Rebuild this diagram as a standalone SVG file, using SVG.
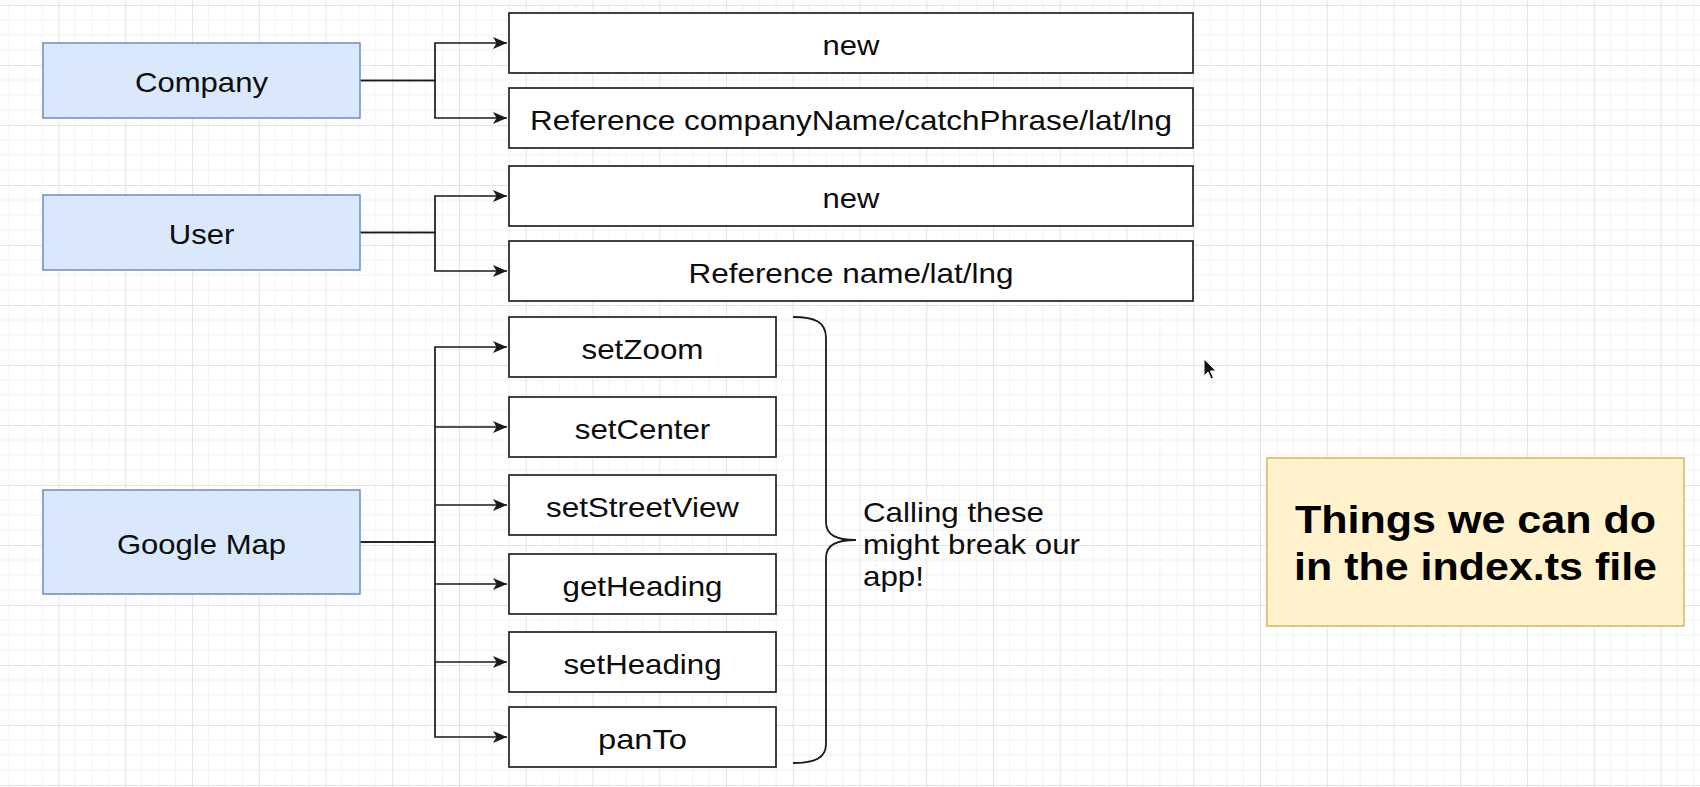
<svg xmlns="http://www.w3.org/2000/svg" width="1700" height="787" viewBox="0 0 1700 787">
<style>
.bg{fill:#ffffff}
.blue{fill:#dae8fc;stroke:#6c8ebf;stroke-width:1.5}
.box{fill:#ffffff;stroke:#222222;stroke-width:1.7}
.note{fill:#fff2cc;stroke:#d6b656;stroke-width:1.5}
.lbl{font-family:"Liberation Sans",Arial,Helvetica,sans-serif;font-size:28px;fill:#0d0d0d;text-anchor:middle}
.side{font-family:"Liberation Sans",Arial,Helvetica,sans-serif;font-size:28px;fill:#0d0d0d;text-anchor:start}
.big{font-family:"Liberation Sans",Arial,Helvetica,sans-serif;font-size:39px;font-weight:bold;fill:#000000;text-anchor:middle}
.conn{fill:none;stroke:#1a1a1a;stroke-width:1.7}
.brace{fill:none;stroke:#1a1a1a;stroke-width:1.8}
.minor{stroke:#f2f2f2;stroke-width:1}
.major{stroke:#e4e4e4;stroke-width:1}
</style>
<defs>
<pattern id="grid" patternUnits="userSpaceOnUse" x="58.5" y="5" width="66.75" height="60">
<line class="minor" x1="16.69" y1="0" x2="16.69" y2="60"/>
<line class="minor" x1="33.38" y1="0" x2="33.38" y2="60"/>
<line class="minor" x1="50.06" y1="0" x2="50.06" y2="60"/>
<line class="minor" x1="0" y1="15" x2="66.75" y2="15"/>
<line class="minor" x1="0" y1="30" x2="66.75" y2="30"/>
<line class="minor" x1="0" y1="45" x2="66.75" y2="45"/>
<line class="major" x1="0.5" y1="0" x2="0.5" y2="60"/>
<line class="major" x1="0" y1="0.5" x2="66.75" y2="0.5"/>
</pattern>
<marker id="arr" markerUnits="userSpaceOnUse" markerWidth="18" markerHeight="16" viewBox="-16 -8 18 16" refX="0" refY="0" orient="auto">
<path d="M0,0 L-14,-6 L-10.5,0 L-14,6 Z" fill="#1a1a1a"/>
</marker>
</defs>
<rect class="bg" x="0" y="0" width="1700" height="787"/>
<rect x="0" y="0" width="1700" height="787" fill="url(#grid)"/>

<g id="connectors">
<path class="conn" d="M360,80.5 H435 V43 H507" marker-end="url(#arr)"/>
<path class="conn" d="M360,80.5 H435 V118 H507" marker-end="url(#arr)"/>
<path class="conn" d="M360,232.5 H435 V196 H507" marker-end="url(#arr)"/>
<path class="conn" d="M360,232.5 H435 V271 H507" marker-end="url(#arr)"/>
<path class="conn" d="M360,542 H435 V347 H507" marker-end="url(#arr)"/>
<path class="conn" d="M435,427 H507" marker-end="url(#arr)"/>
<path class="conn" d="M435,505 H507" marker-end="url(#arr)"/>
<path class="conn" d="M435,584 H507" marker-end="url(#arr)"/>
<path class="conn" d="M435,662 H507" marker-end="url(#arr)"/>
<path class="conn" d="M360,542 H435 V737 H507" marker-end="url(#arr)"/>
</g>

<g id="company">
<rect class="blue" x="43" y="43" width="317" height="75"/>
<text class="lbl" x="201.5" y="92" textLength="132.9" lengthAdjust="spacingAndGlyphs">Company</text>
</g>
<g id="user">
<rect class="blue" x="43" y="195" width="317" height="75"/>
<text class="lbl" x="201.5" y="244" textLength="65.5" lengthAdjust="spacingAndGlyphs">User</text>
</g>
<g id="googlemap">
<rect class="blue" x="43" y="490" width="317" height="104"/>
<text class="lbl" x="201.5" y="553.5" textLength="169.1" lengthAdjust="spacingAndGlyphs">Google Map</text>
</g>

<g id="company-new">
<rect class="box" x="509" y="13" width="684" height="60"/>
<text class="lbl" x="851" y="54.5" textLength="56.9" lengthAdjust="spacingAndGlyphs">new</text>
</g>
<g id="company-ref">
<rect class="box" x="509" y="88" width="684" height="60"/>
<text class="lbl" x="851" y="129.5" textLength="642" lengthAdjust="spacingAndGlyphs">Reference companyName/catchPhrase/lat/lng</text>
</g>
<g id="user-new">
<rect class="box" x="509" y="166" width="684" height="60"/>
<text class="lbl" x="851" y="207.5" textLength="56.9" lengthAdjust="spacingAndGlyphs">new</text>
</g>
<g id="user-ref">
<rect class="box" x="509" y="241" width="684" height="60"/>
<text class="lbl" x="851" y="282.5" textLength="325" lengthAdjust="spacingAndGlyphs">Reference name/lat/lng</text>
</g>

<g id="setZoom">
<rect class="box" x="509" y="317" width="267" height="60"/>
<text class="lbl" x="642.5" y="358.5" textLength="122" lengthAdjust="spacingAndGlyphs">setZoom</text>
</g>
<g id="setCenter">
<rect class="box" x="509" y="397" width="267" height="60"/>
<text class="lbl" x="642.5" y="438.5" textLength="135.5" lengthAdjust="spacingAndGlyphs">setCenter</text>
</g>
<g id="setStreetView">
<rect class="box" x="509" y="475" width="267" height="60"/>
<text class="lbl" x="642.5" y="516.5" textLength="193" lengthAdjust="spacingAndGlyphs">setStreetView</text>
</g>
<g id="getHeading">
<rect class="box" x="509" y="554" width="267" height="60"/>
<text class="lbl" x="642.5" y="595.5" textLength="160" lengthAdjust="spacingAndGlyphs">getHeading</text>
</g>
<g id="setHeading">
<rect class="box" x="509" y="632" width="267" height="60"/>
<text class="lbl" x="642.5" y="673.5" textLength="158" lengthAdjust="spacingAndGlyphs">setHeading</text>
</g>
<g id="panTo">
<rect class="box" x="509" y="707" width="267" height="60"/>
<text class="lbl" x="642.5" y="748.5" textLength="89" lengthAdjust="spacingAndGlyphs">panTo</text>
</g>

<g id="brace-note">
<path class="brace" d="M793,317 C815,317 826,322 826,338 L826,522 C826,535 836,540 856,540 C836,540 826,545 826,558 L826,744 C826,758 815,763 793,763"/>
<text class="side" x="863" y="522" textLength="181" lengthAdjust="spacingAndGlyphs">Calling these</text>
<text class="side" x="863" y="554" textLength="217" lengthAdjust="spacingAndGlyphs">might break our</text>
<text class="side" x="863" y="585.5" textLength="61" lengthAdjust="spacingAndGlyphs">app!</text>
</g>

<g id="index-note">
<rect class="note" x="1267" y="458" width="417" height="168"/>
<text class="big" x="1475.5" y="533" textLength="361" lengthAdjust="spacingAndGlyphs">Things we can do</text>
<text class="big" x="1475.5" y="579.5" textLength="363" lengthAdjust="spacingAndGlyphs">in the index.ts file</text>
</g>

<path id="cursor" d="M1204,359 L1204,376 L1208,372 L1211,379 L1213.5,378 L1210.5,371 L1216,371 Z" fill="#111111" stroke="#ffffff" stroke-width="1"/>
</svg>
